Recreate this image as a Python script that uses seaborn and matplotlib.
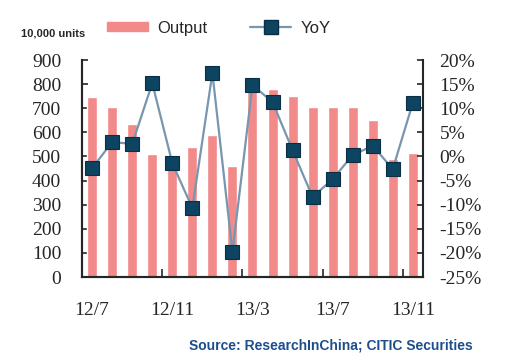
import matplotlib.pyplot as plt
import seaborn as sns
import pandas as pd

# monthly output (10,000 units) and year-on-year change (%)
months = ['12/7', '12/8', '12/9', '12/10', '12/11', '12/12', '13/1', '13/2', '13/3',
          '13/4', '13/5', '13/6', '13/7', '13/8', '13/9', '13/10', '13/11']
output = [745, 705, 635, 510, 470, 540, 590, 460, 772, 778, 750, 705, 705, 705, 650, 490, 515]
yoy = [-2.4, 3.0, 2.6, 15.2, -1.4, -10.7, 17.3, -19.8, 14.8, 11.3, 1.3, -8.4, -4.7, 0.3, 2.2, -2.6, 11.1]
shown_labels = ['12/7', '12/11', '13/3', '13/7', '13/11']

sns.set_style('ticks')
plt.rcParams['font.family'] = ['Liberation Serif', 'DejaVu Serif']

df = pd.DataFrame({'month': months, 'output': output, 'yoy': yoy})
df['pos'] = range(len(df))

fig = plt.figure(figsize=(5.07, 3.64), dpi=100)
ax = fig.add_axes([0.162, 0.239, 0.672, 0.596])
ax2 = ax.twinx()

bar_color = '#F38A8A'
line_color = '#7896B0'
marker_color = '#0D4461'

sns.barplot(data=df, x='pos', y='output', native_scale=True, width=0.5,
            color=bar_color, saturation=1, ax=ax)
sns.lineplot(data=df, x='pos', y='yoy', ax=ax2, color=line_color, linewidth=1.6,
             marker='s', markersize=10, markerfacecolor=marker_color,
             markeredgecolor='#0A2F45', markeredgewidth=0.8, legend=False)

ax.set_xlim(-0.5, len(df) - 0.5)
ax.set_ylim(0, 900)
ax.set_yticks(range(0, 901, 100))
ax2.set_ylim(-25, 20)
ax2.set_yticks(range(-25, 21, 5))
ax2.set_yticklabels([f'{v}%' for v in range(-25, 21, 5)])

# labels every 4 months, tick marks between the groups
label_pos = [months.index(m) for m in shown_labels]
ax.set_xticks([p + 3.5 for p in label_pos[:-1]])
ax.set_xticklabels([])
ax.set_xticks(label_pos, minor=True)
ax.set_xticklabels(shown_labels, minor=True)
ax.tick_params(axis='x', which='major', direction='in', length=6, width=1.2)
ax.tick_params(axis='x', which='minor', length=0, pad=18, labelsize=14)
ax.tick_params(axis='y', direction='in', length=4, width=1.2, pad=15, labelsize=14)
ax2.tick_params(axis='y', direction='in', length=4, width=1.2, pad=12, labelsize=14)

for a in (ax, ax2):
    a.set_xlabel('')
    a.set_ylabel('')
    a.spines['top'].set_visible(False)
    for s in ('left', 'right', 'bottom'):
        a.spines[s].set_linewidth(1.5)
ax.spines['right'].set_visible(False)

handles = [plt.Rectangle((0, 0), 1, 1, color=bar_color),
           plt.Line2D([], [], color=line_color, linewidth=1.6, marker='s', markersize=10,
                      markerfacecolor=marker_color, markeredgecolor='#0A2F45')]
fig.legend(handles, ['Output', 'YoY'], loc='center left', bbox_to_anchor=(0.211, 0.923),
           ncol=2, frameon=False, borderpad=0, borderaxespad=0, handlelength=2.45,
           handleheight=0.5, handletextpad=0.55, columnspacing=2.6,
           prop={'family': 'Liberation Sans', 'size': 12})

fig.text(21 / 507, 1 - 33 / 364, '10,000 units', fontsize=8, fontweight='bold',
         family='Liberation Sans', va='center', ha='left')
fig.text(473 / 507, 1 - 345 / 364, 'Source: ResearchInChina; CITIC Securities',
         fontsize=10, fontweight='bold', family='Liberation Sans', color='#1D4E8C',
         va='center', ha='right')

fig.savefig('out.png', dpi=100)
plt.close(fig)
